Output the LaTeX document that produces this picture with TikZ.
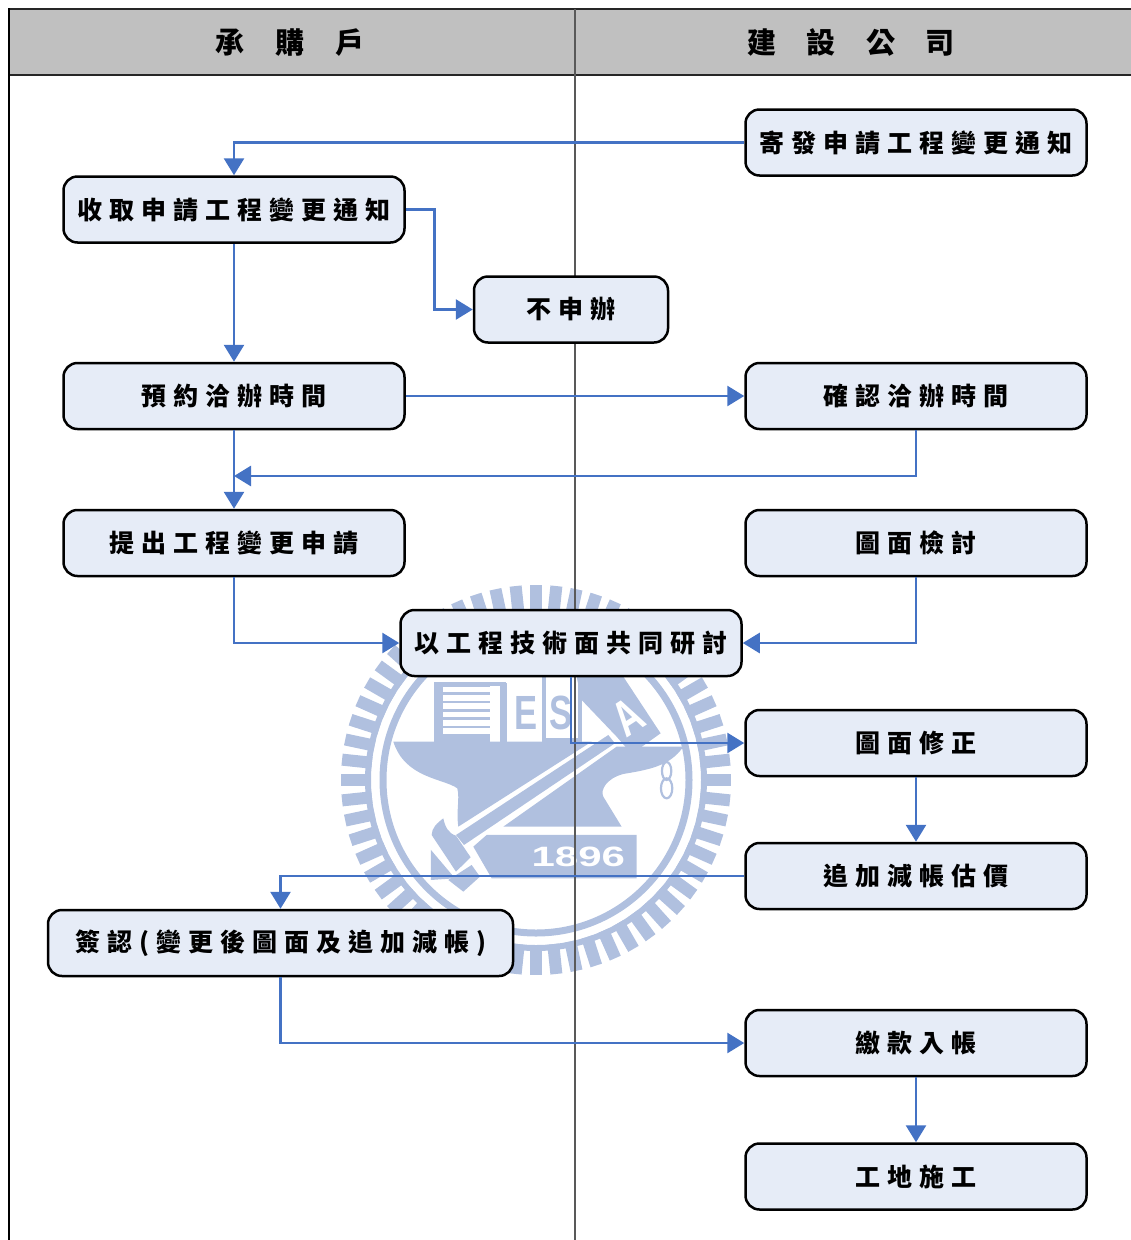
\documentclass[tikz,border=0pt]{standalone}
\usepackage{fontspec}
\usepackage{tikz}
\usetikzlibrary{arrows.meta}
\newfontfamily\boxfont{Noto Sans CJK TC}[LetterSpace=28]
\newfontfamily\headfont{Noto Sans CJK TC}[WordSpace=4.6]
\newfontfamily\logofont{Liberation Sans}[FakeStretch=0.72]
\newfontfamily\yearfont{Liberation Sans}[FakeStretch=1.5]
\definecolor{lanegray}{HTML}{C0C0C0}
\definecolor{boxfill}{HTML}{E6ECF7}
\definecolor{flowblue}{HTML}{4472C4}
\definecolor{logoblue}{HTML}{B0C0DF}
\tikzset{
  flowbox/.style={draw=black, line width=2.5pt, rounded corners=14pt, fill=boxfill,
    minimum width=341pt, minimum height=66pt, inner sep=0pt,
    font=\boxfont\bfseries\fontsize{25}{29}\selectfont},
  lanehead/.style={font=\headfont\bfseries\fontsize{29}{34}\selectfont},
  flow/.style={draw=flowblue, line width=2.8pt},
  flowarrow/.style={flow, -{Triangle[length=17pt,width=20pt]}},
  logotext/.style={text=logoblue, inner sep=0pt},
}
\begin{document}
\begin{tikzpicture}[x=1pt, y=-1pt]
  \useasboundingbox (0,0) rectangle (1131,1240);
  % watermark
  \foreach \a in {0,6,...,354}
    \draw[logoblue, line width=12pt] (536,780) ++(\a:165) -- ++(\a:30);
  \draw[logoblue, line width=6pt] (536,780) circle (168);
  \draw[logoblue, line width=7pt] (536,780) circle (153);
  \begin{scope}[shift={(330,570)}, x=0.3333pt, y=-0.3333pt]
    \fill[logoblue] (312,335) rectangle (480,515);
    \foreach \s in {350,375,...,490}
      \fill[white] (338,\s) rectangle (480,\s+17);
    \fill[logoblue] (312,335) rectangle (527,348);
    \fill[logoblue] (510,340) rectangle (530,515);
    \draw[logoblue, line width=4pt] (642,322) -- (642,510) -- (750,510) -- (750,322);
    \fill[logoblue] (740,320) -- (880,320) -- (992,490) -- (905,552) -- (860,500) -- (755,390) -- cycle;
    \fill[logoblue] (190,515) -- (785,515) -- (385,770) .. controls (378,720) and (390,690) .. (382,655)
      .. controls (340,625) and (225,625) .. (190,515) -- cycle;
    \fill[logoblue] (378,795) -- (835,495) -- (855,520) -- (402,825) -- cycle;
    \fill[logoblue] (520,770) -- (860,530) -- (1060,530) .. controls (1020,590) and (950,600) .. (880,612)
      .. controls (830,625) and (810,660) .. (820,680) -- (875,770) -- cycle;
    \fill[logoblue] (340,745) .. controls (320,760) and (305,775) .. (305,795) -- (378,905) -- (422,862)
      -- (378,797) .. controls (355,790) and (345,770) .. (340,745) -- cycle;
    \fill[logoblue] (470,795) -- (920,795) -- (920,925) -- (485,925) -- (430,830) -- cycle;
    \fill[logoblue] (303,840) -- (375,925) -- (303,930) -- cycle;
    \fill[logoblue] (425,885) -- (450,920) -- (400,965) -- (355,930) -- cycle;
    \draw[logoblue, line width=2.2pt] (1010,603) ellipse (14 and 27);
    \draw[logoblue, line width=2.2pt] (1010,655) ellipse (17 and 30);
    \node[logotext, font=\logofont\bfseries\fontsize{48}{48}\selectfont] (logoE) at (587,428) {E};
    \node[logotext, font=\logofont\bfseries\fontsize{48}{48}\selectfont] (logoS) at (692,428) {S};
    \node[logotext, text=white, rotate=33, font=\logofont\bfseries\fontsize{50}{50}\selectfont] (logoA) at (895,440) {A};
    \node[logotext, text=white, font=\yearfont\bfseries\fontsize{28}{28}\selectfont] (logoYear) at (745,860) {1896};
  \end{scope}
  % lanes
  \fill[lanegray] (9,9) rectangle (1131,75);
  \draw[black!85, line width=1.5pt] (9,9) -- (1131,9);
  \draw[black!85, line width=1.2pt] (9,75) -- (1131,75);
  \draw[black, line width=2.8pt] (9,8) -- (9,1240);
  \draw[black!65, line width=1.3pt] (575,9) -- (575,1240);
  \node[lanehead] (buyerhead) at (290,43) {承 購 戶};
  \node[lanehead] (builderhead) at (851,42) {建 設 公 司};
  % steps
  \coordinate (rejoin) at (234,476);
  \node[flowbox] (sendnotice) at (916,142.5) {寄發申請工程變更通知};
  \node[flowbox] (getnotice) at (234,209.5) {收取申請工程變更通知};
  \node[flowbox, minimum width=194pt] (noapply) at (571,309.5) {不申辦};
  \node[flowbox] (booktime) at (234,396) {預約洽辦時間};
  \node[flowbox] (confirmtime) at (916,396) {確認洽辦時間};
  \node[flowbox] (submit) at (234,543) {提出工程變更申請};
  \node[flowbox] (checkplan) at (916,543) {圖面檢討};
  \node[flowbox] (discuss) at (571,643) {以工程技術面共同研討};
  \node[flowbox] (fixplan) at (916,743) {圖面修正};
  \node[flowbox] (estimate) at (916,876) {追加減帳估價};
  \node[flowbox, minimum width=465pt] (signoff) at (280.5,943) {簽認(變更後圖面及追加減帳)};
  \node[flowbox] (payment) at (916,1043) {繳款入帳};
  \node[flowbox] (startwork) at (916,1176.5) {工地施工};
  % connectors
  \draw[flowarrow] (sendnotice.west) -| (getnotice.north);
  \draw[flowarrow] (getnotice.east) -- ++(29,0) |- (noapply.west);
  \draw[flowarrow] (getnotice.south) -- (booktime.north);
  \draw[flowarrow] (booktime.east) -- (confirmtime.west);
  \draw[flowarrow] (booktime.south) -- (submit.north);
  \draw[flowarrow] (confirmtime.south) |- (rejoin);
  \draw[flowarrow] (submit.south) |- (discuss.west);
  \draw[flowarrow] (checkplan.south) |- (discuss.east);
  \draw[flowarrow] (discuss.south) |- (fixplan.west);
  \draw[flowarrow] (fixplan.south) -- (estimate.north);
  \draw[flowarrow] (estimate.west) -| (signoff.north);
  \draw[flowarrow] (signoff.south) |- (payment.west);
  \draw[flowarrow] (payment.south) -- (startwork.north);
\end{tikzpicture}
\end{document}
